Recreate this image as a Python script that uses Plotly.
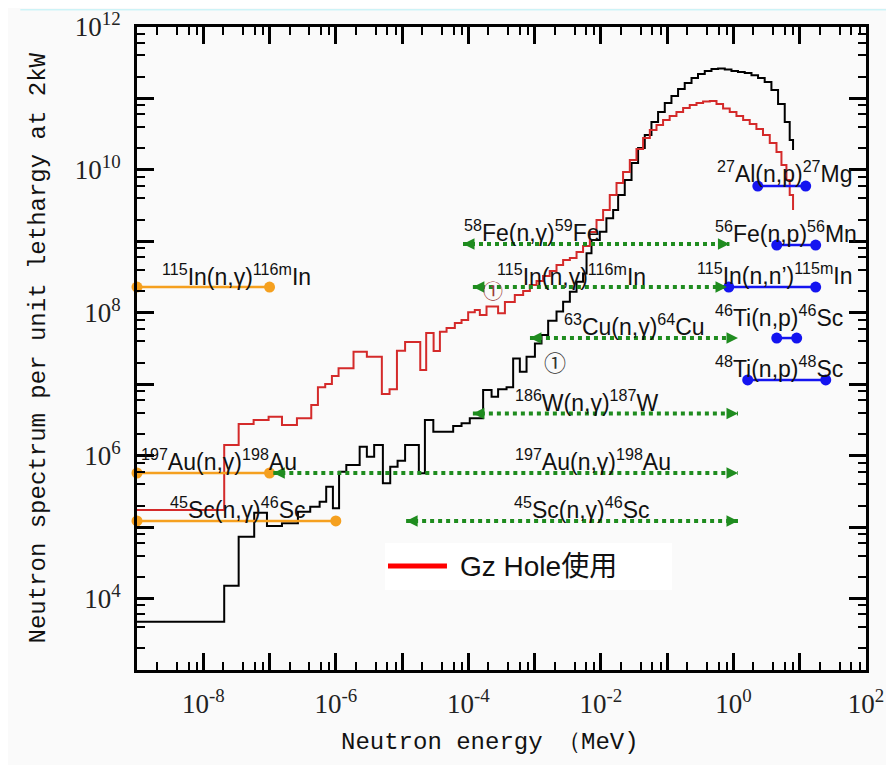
import numpy as np
import plotly.graph_objects as go

# ---------------- data ----------------
# Black spectrum: bin edges (MeV) and per-bin values
black_E = [1.0e-9, 2.07e-8, 3.42e-8, 5.87e-8, 9.14e-8, 1.54e-7, 2.68e-7, 4.11e-7, 5.70e-7, 7.16e-7,
           9.04e-7, 1.12e-6, 1.44e-6, 2.29e-6, 2.94e-6, 3.79e-6, 5.13e-6, 6.62e-6, 8.55e-6, 1.11e-5,
           1.79e-5, 2.21e-5, 2.96e-5, 5.90e-5, 7.89e-5, 1.05e-4, 1.67e-4, 2.24e-4, 2.81e-4, 3.77e-4,
           4.74e-4, 5.98e-4, 7.55e-4, 1.01e-3, 1.27e-3, 1.60e-3, 2.14e-3, 2.69e-3, 3.40e-3, 4.29e-3,
           5.38e-3, 6.07e-3, 7.21e-3, 9.62e-3, 1.21e-2, 1.53e-2, 1.82e-2, 2.29e-2, 2.90e-2, 3.64e-2,
           4.59e-2, 5.79e-2, 7.29e-2, 9.20e-2, 0.116, 0.146, 0.184, 0.233, 0.292, 0.369,
           0.466, 0.586, 0.740, 0.933, 1.17, 1.48, 1.87, 2.35, 2.96, 3.74,
           4.71, 5.94, 7.06, 7.93]
black_phi = [4.74e3, 1.51e4, 7.34e4, 1.59e5, 1.04e5, 1.13e5, 1.64e5, 1.93e5, 2.27e5, 3.67e5,
             1.83e5, 5.96e5, 7.40e5, 1.33e6, 9.66e5, 1.41e6, 4.10e5, 7.00e5, 8.49e5, 1.41e6,
             5.66e5, 3.16e6, 2.16e6, 2.60e6, 2.84e6, 3.33e6, 8.30e6, 6.68e6, 8.49e6, 9.06e6,
             2.30e7, 1.50e7, 2.43e7, 3.73e7, 4.89e7, 7.74e7, 1.04e8, 1.43e8, 1.97e8, 2.72e8,
             3.56e8, 6.79e8, 1.04e9, 1.36e9, 2.10e9, 2.74e9, 4.45e9, 7.21e9, 1.25e10, 2.02e10,
             3.08e10, 4.68e10, 6.46e10, 8.63e10, 1.08e11, 1.36e11, 1.64e11, 1.93e11, 2.19e11, 2.42e11,
             2.58e11, 2.62e11, 2.54e11, 2.42e11, 2.34e11, 2.27e11, 2.12e11, 1.93e11, 1.70e11, 1.31e11,
             8.35e10, 4.68e10, 2.62e10]
black_end = 1.90e10

# Red spectrum (Gz Hole)
red_E = [1.0e-9, 2.07e-8, 3.42e-8, 5.75e-8, 9.68e-8, 1.54e-7, 2.59e-7, 4.26e-7, 5.37e-7, 6.92e-7,
         8.73e-7, 1.10e-6, 1.85e-6, 2.94e-6, 4.95e-6, 6.47e-6, 8.36e-6, 1.11e-5, 1.88e-5, 2.31e-5,
         2.99e-5, 3.72e-5, 4.69e-5, 6.25e-5, 7.89e-5, 9.93e-5, 1.25e-4, 1.49e-4, 1.88e-4, 2.81e-4,
         3.56e-4, 5.02e-4, 6.71e-4, 8.47e-4, 1.07e-3, 1.34e-3, 1.69e-3, 2.14e-3, 2.69e-3, 3.40e-3,
         4.29e-3, 5.38e-3, 6.81e-3, 8.59e-3, 1.08e-2, 1.36e-2, 1.72e-2, 2.16e-2, 2.73e-2, 3.44e-2,
         4.33e-2, 5.47e-2, 6.90e-2, 8.67e-2, 0.109, 0.138, 0.174, 0.219, 0.277, 0.348,
         0.440, 0.555, 0.697, 0.879, 1.11, 1.40, 1.76, 2.22, 2.79, 3.53,
         4.46, 5.30, 6.30, 7.06, 7.93]
red_phi = [1.73e5, 1.41e6, 2.77e6, 3.16e6, 3.51e6, 2.69e6, 3.33e6, 5.12e6, 9.06e6, 1.01e7,
           1.30e7, 1.67e7, 2.85e7, 2.43e7, 7.29e6, 8.49e6, 2.94e7, 3.90e7, 1.58e7, 5.21e7,
           2.92e7, 5.43e7, 6.12e7, 7.19e7, 7.92e7, 1.02e8, 1.09e8, 9.31e7, 1.22e8, 9.82e7,
           1.41e8, 1.77e8, 2.01e8, 2.44e8, 2.78e8, 3.27e8, 3.84e8, 4.66e8, 5.47e8, 5.83e8,
           7.08e8, 8.59e8, 1.35e9, 1.99e9, 2.74e9, 4.45e9, 6.55e9, 9.33e9, 1.37e10, 1.96e10,
           2.79e10, 3.61e10, 4.25e10, 4.99e10, 5.67e10, 6.46e10, 7.35e10, 8.09e10, 8.63e10, 9.06e10,
           9.20e10, 8.35e10, 7.22e10, 6.46e10, 5.67e10, 4.99e10, 4.38e10, 3.73e10, 3.08e10, 2.38e10,
           1.78e10, 1.17e10, 7.21e9, 4.45e9]
red_end = 2.74e9

# Reaction sensitivity ranges
orange_names = ["<sup>115</sup>In(n,γ)<sup>116m</sup>In", "<sup>197</sup>Au(n,γ)<sup>198</sup>Au",
                "<sup>45</sup>Sc(n,γ)<sup>46</sup>Sc"]
orange_lo = [1e-9, 1e-9, 1e-9]
orange_hi = [1e-7, 1e-7, 1e-6]
orange_y = [2.29e8, 5.72e5, 1.22e5]
orange_label_x = [2.22e-9, 1.07e-9, 2.94e-9]

green_names = ["<sup>58</sup>Fe(n,γ)<sup>59</sup>Fe", "<sup>115</sup>In(n,γ)<sup>116m</sup>In",
               "<sup>63</sup>Cu(n,γ)<sup>64</sup>Cu", "<sup>186</sup>W(n,γ)<sup>187</sup>W",
               "<sup>197</sup>Au(n,γ)<sup>198</sup>Au", "<sup>45</sup>Sc(n,γ)<sup>46</sup>Sc"]
green_lo = [8.3e-5, 1.17e-4, 8.5e-4, 1.17e-4, 1.14e-7, 1.15e-5]
green_hi = [0.87, 0.80, 1.17, 1.17, 1.17, 1.17]
green_y = [9.17e8, 2.29e8, 4.43e7, 3.89e6, 5.72e5, 1.22e5]
green_label_x = [7.89e-5, 2.51e-4, 2.55e-3, 4.74e-4, 4.74e-4, 4.6e-4]

blue_names = ["<sup>27</sup>Al(n,p)<sup>27</sup>Mg", "<sup>56</sup>Fe(n,p)<sup>56</sup>Mn",
              "<sup>115</sup>In(n,n’)<sup>115m</sup>In", "<sup>46</sup>Ti(n,p)<sup>46</sup>Sc",
              "<sup>48</sup>Ti(n,p)<sup>48</sup>Sc"]
blue_lo = [2.33, 4.5, 0.85, 4.5, 1.64]
blue_hi = [12.3, 17.4, 17.4, 9.0, 24.7]
blue_y = [5.94e9, 8.87e8, 2.29e8, 4.43e7, 1.15e7]
blue_label_x = [0.522, 0.492, 0.261, 0.492, 0.492]

# circled markers "①"
circle_x = [2.34e-4, 2.02e-3]
circle_y = [2.08e8, 2.11e7]

# axis ticks
x_exponents = list(range(-9, 3))
y_exponents = list(range(3, 13))
minor_mult = [2, 4, 6, 8]
legend_text = "Gz Hole使用"

assert len(black_E) == len(black_phi) + 1
assert len(red_E) == len(red_phi) + 1

# ---------------- figure ----------------
ORANGE = "#f5a01f"
GREEN = "#1f8c1f"
BLUE = "#1414f0"
RED = "#d42a2a"

fig = go.Figure()

fig.add_trace(go.Scatter(x=black_E, y=black_phi + [black_end], mode="lines",
                         line=dict(color="black", width=2, shape="hv"), showlegend=False))
fig.add_trace(go.Scatter(x=red_E, y=red_phi + [red_end], mode="lines",
                         line=dict(color=RED, width=2, shape="hv"), showlegend=False))

# orange ranges
for lo, hi, yv in zip(orange_lo, orange_hi, orange_y):
    fig.add_trace(go.Scatter(x=[lo, hi], y=[yv, yv], mode="lines+markers",
                             line=dict(color=ORANGE, width=2.5),
                             marker=dict(color=ORANGE, size=11), cliponaxis=False, showlegend=False))
# green dotted ranges
for lo, hi, yv in zip(green_lo, green_hi, green_y):
    fig.add_trace(go.Scatter(x=[lo, hi], y=[yv, yv], mode="lines",
                             line=dict(color=GREEN, width=4, dash="dot"), showlegend=False))
# blue ranges
for lo, hi, yv in zip(blue_lo, blue_hi, blue_y):
    fig.add_trace(go.Scatter(x=[lo, hi], y=[yv, yv], mode="lines+markers",
                             line=dict(color=BLUE, width=2.5),
                             marker=dict(color=BLUE, size=11), showlegend=False))

annotations = []
label_font = dict(family="Liberation Sans, Arial", size=23, color="#111111")

# green arrow heads
for lo, hi, yv in zip(green_lo, green_hi, green_y):
    for tip, off in ((hi, -9), (lo, 9)):
        annotations.append(dict(x=np.log10(tip), y=np.log10(yv), xref="x", yref="y",
                                ax=off, ay=0, showarrow=True, arrowhead=2, arrowsize=1.15,
                                arrowwidth=2, arrowcolor=GREEN, text=""))

def add_labels(names, xs, ys, dys):
    for n, lx, yv, dy in zip(names, xs, ys, dys):
        annotations.append(dict(x=np.log10(lx), y=np.log10(yv), xref="x", yref="y",
                                text=n, showarrow=False, xanchor="left", yanchor="bottom",
                                yshift=dy, font=label_font))

add_labels(orange_names, orange_label_x, orange_y, [-5, -4, -4])
add_labels(green_names, green_label_x, green_y, [-4, -5, -4, -4, -4, -4])
add_labels(blue_names, blue_label_x, blue_y, [-3, -4, -4, 5, -4])

circle_colors = ["#9a3b3b", "#333333"]
circle_sizes = [20, 22]
for cx, cy, cc, cs in zip(circle_x, circle_y, circle_colors, circle_sizes):
    annotations.append(dict(x=np.log10(cx), y=np.log10(cy), xref="x", yref="y", text="①",
                            showarrow=False, xanchor="center", yanchor="middle",
                            font=dict(family="Noto Sans CJK JP", size=cs, color=cc)))

# axis titles
annotations.append(dict(x=-0.1358, y=0.5, xref="paper", yref="paper",
                        xanchor="center", yanchor="middle",
                        text="Neutron spectrum per unit lethargy at 2kW", showarrow=False,
                        textangle=-90, font=dict(family="Liberation Mono", size=24, color="#111")))
annotations.append(dict(x=0.484, y=-0.112, xref="paper", yref="paper",
                        xanchor="center", yanchor="middle",
                        text="Neutron energy （MeV)", showarrow=False,
                        font=dict(family="Liberation Mono", size=24, color="#111")))

# legend text
annotations.append(dict(x=0.4403, y=0.1617, xref="paper", yref="paper", text=legend_text,
                        showarrow=False, xanchor="left", yanchor="middle",
                        font=dict(family="Liberation Sans, Noto Sans CJK JP", size=28, color="#111")))

shapes = [
    dict(type="rect", xref="paper", yref="paper", x0=0.3402, x1=0.7339, y0=0.1244, y1=0.1975,
         fillcolor="white", line=dict(width=0), layer="above"),
    dict(type="line", xref="paper", yref="paper", x0=0.3443, x1=0.4252, y0=0.1617, y1=0.1617,
         line=dict(color="#ff0000", width=5)),
    dict(type="line", xref="paper", yref="paper", x0=-0.16, x1=1.05, y0=1.027, y1=1.027,
         line=dict(color="#cdf3f7", width=1.5)),
]

x_tickvals = [10.0 ** e for e in x_exponents]
x_ticktext = [f"10<sup>{e}</sup>" if e % 2 == 0 else "" for e in x_exponents]
y_tickvals = [10.0 ** e for e in y_exponents]
y_ticktext = [f"10<sup>{e}</sup>" if e % 2 == 0 else "" for e in y_exponents]
x_minor = [m * 10.0 ** e for e in x_exponents[:-1] for m in minor_mult]
y_minor = [m * 10.0 ** e for e in y_exponents[:-1] for m in minor_mult]

axis_common = dict(type="log", showgrid=False, zeroline=False, showline=True, linewidth=3,
                   linecolor="black", mirror="allticks", ticks="inside", ticklen=17,
                   tickwidth=2.5, tickcolor="black", tickmode="array", automargin=False,
                   tickfont=dict(family="Liberation Serif", size=27, color="#222"))

fig.update_xaxes(range=[-9, 2], tickvals=x_tickvals, ticktext=x_ticktext, ticklabelstandoff=8,
                 minor=dict(tickmode="array", tickvals=x_minor, ticks="inside", ticklen=8,
                            tickwidth=2, tickcolor="black", showgrid=False), **axis_common)
fig.update_yaxes(range=[3, 12], tickvals=y_tickvals, ticktext=y_ticktext, ticklabelstandoff=8,
                 minor=dict(tickmode="array", tickvals=y_minor, ticks="inside", ticklen=8,
                            tickwidth=2, tickcolor="black", showgrid=False), **axis_common)

# the page adds an 8px body margin: the figure is offset accordingly
fig.update_layout(width=894, height=765, margin=dict(l=129, r=36, t=19, b=103),
                  paper_bgcolor="#fafafa", plot_bgcolor="#fafafa",
                  font=dict(family="Liberation Sans"),
                  annotations=annotations, shapes=shapes, showlegend=False)

fig.write_html("out.html")
